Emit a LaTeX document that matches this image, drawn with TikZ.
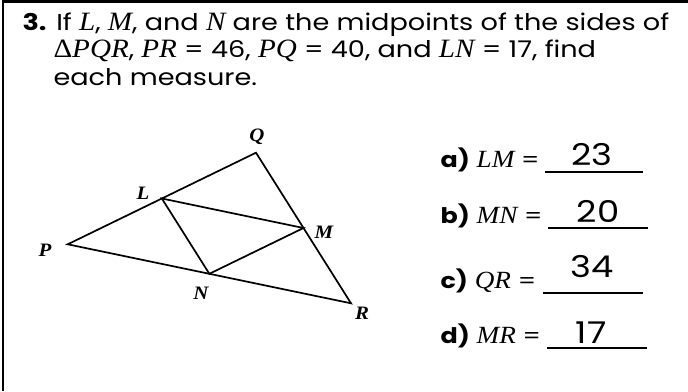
\documentclass[tikz,border=0pt]{standalone}
\usepackage{fontspec}
\usetikzlibrary{calc}
\setmainfont{Poppins}[FakeStretch=1.18]
\newfontfamily\lblfont{Liberation Serif}[FakeStretch=1.1,Scale=1.15]
\newcommand{\mvar}[1]{{\lblfont\itshape #1}}
\begin{document}
\begin{tikzpicture}[x=1pt,y=-1pt,
  side/.style={line width=1.7pt,line join=miter},
  vlabel/.style={font=\fontsize{16.5}{17}\lblfont\bfseries\itshape},
  textline/.style={anchor=base west,font=\fontsize{23}{27}\selectfont},
  askline/.style={anchor=base west,font=\fontsize{21.5}{25}\selectfont},
  answer/.style={font=\fontsize{30}{30}\selectfont,anchor=base}]
  \useasboundingbox (0,0) rectangle (688,391);
  \draw[line width=2.6pt] (3,391) -- (3,1.5) -- (688,1.5);
  % question
  \node[textline] (ln1) at (19,30) {\textbf{3.} If \mvar{L}, \mvar{M}, and \mvar{N} are the midpoints of the sides of};
  \node[textline] (ln2) at (50,57) {{\lblfont Δ}\mvar{PQR}, \mvar{PR} = 46, \mvar{PQ} = 40, and \mvar{LN} = 17, find};
  \node[textline] (ln3) at (50,85) {each measure.};
  % triangle
  \coordinate (P) at (67.7,244.3);
  \coordinate (Q) at (256,152.7);
  \coordinate (R) at (351,303.3);
  \coordinate (L) at ($(P)!0.5!(Q)$);
  \coordinate (M) at ($(Q)!0.5!(R)$);
  \coordinate (N) at ($(P)!0.5!(R)$);
  \draw[side] (P) -- (Q) -- (R) -- cycle;
  \draw[side] (L) -- (M) -- (N) -- cycle;
  \node[vlabel] at (45,250) {P};
  \node[vlabel] at (257,137) {Q};
  \node[vlabel] at (362,313) {R};
  \node[vlabel] at (143,193) {L};
  \node[vlabel] at (324,232) {M};
  \node[vlabel] at (201,293) {N};
  % answers
  \foreach \lt/\seg/\val/\yb/\xn/\yn/\ua/\ub in {a/LM/23/167/592/165/545/643,b/MN/20/223/598/222/548/648,c/QR/34/288/592/277/543/643,d/MR/17/343/591/343/547/647}{
    \node[askline] (q\lt) at (437,\yb) {\textbf{\lt)} \mvar{\seg} =};
    \draw[line width=1.5pt] (\ua,\yb+5) -- (\ub,\yb+5);
    \node[answer] (v\lt) at (\xn,\yn) {\val};
  }
\end{tikzpicture}
\end{document}
